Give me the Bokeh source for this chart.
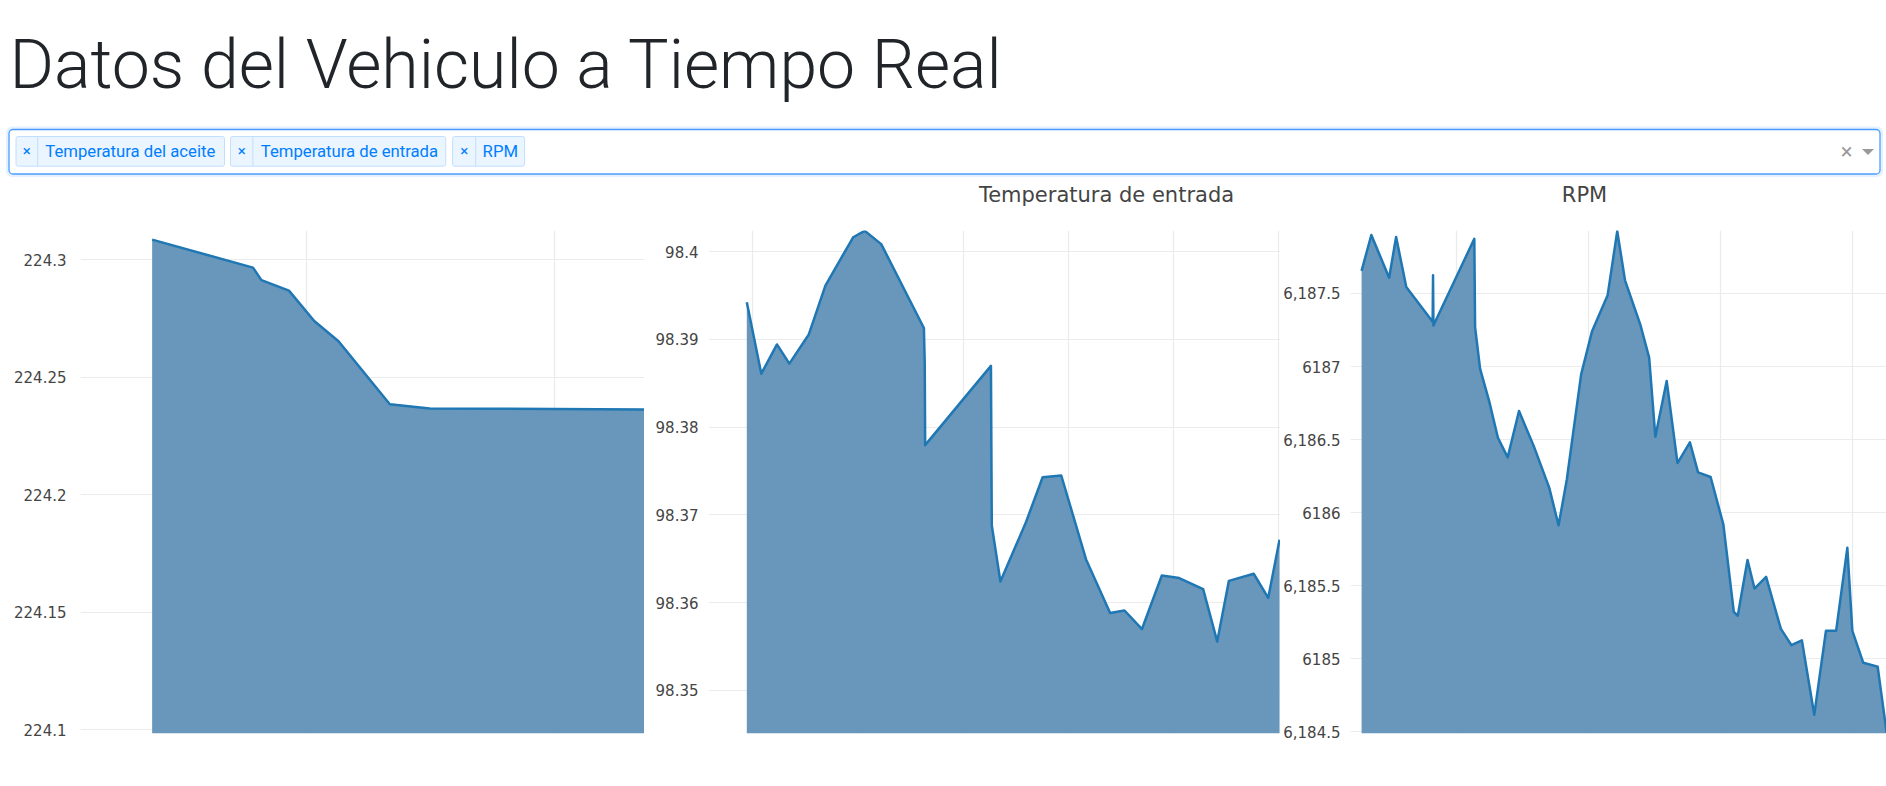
from bokeh.plotting import figure
from bokeh.models import Range1d, FixedTicker, Grid, Label, CustomJSTickFormatter
from bokeh.layouts import column, row
from bokeh.embed import file_html
from bokeh.resources import INLINE

# ---------------- data ----------------
PAGE_TITLE = "Datos del Vehiculo a Tiempo Real"
SELECTED = ["Temperatura del aceite", "Temperatura de entrada", "RPM"]
CHART_TITLES = ["", "Temperatura de entrada", "RPM"]

# Temperatura del aceite (x in grid-interval units)
t_aceite = [-0.623, -0.216, -0.182, -0.071, 0.031, 0.129, 0.336, 0.497, 1.3635]
v_aceite = [224.3086, 224.2967, 224.2914, 224.2869, 224.2740, 224.2654,
            224.2386, 224.2368, 224.2363]
ticks_aceite = [224.1, 224.15, 224.2, 224.25, 224.3]
labels_aceite = ["224.1", "224.15", "224.2", "224.25", "224.3"]

# Temperatura de entrada
t_entrada = [-0.059, 0.079, 0.228, 0.346, 0.531, 0.689, 0.953, 1.063, 1.220,
             1.626, 1.634, 1.638, 2.264, 2.272, 2.354, 2.598, 2.756, 2.933,
             3.169, 3.398, 3.535, 3.701, 3.890, 4.055, 4.283, 4.417, 4.528,
             4.764, 4.902, 5.010]
v_entrada = [98.39422, 98.38609, 98.38942, 98.38723, 98.39056, 98.39613,
             98.40163, 98.40236, 98.40085, 98.39129, 98.38731, 98.37795,
             98.38698, 98.36880, 98.36241, 98.36920, 98.37429, 98.37449,
             98.36493, 98.35883, 98.35911, 98.35700, 98.36310, 98.36281,
             98.36155, 98.35557, 98.36249, 98.36330, 98.36054, 98.36717]
ticks_entrada = [98.35, 98.36, 98.37, 98.38, 98.39, 98.4]
labels_entrada = ["98.35", "98.36", "98.37", "98.38", "98.39", "98.4"]

# RPM
t_rpm = [-0.722, -0.648, -0.513, -0.460, -0.383, -0.183, -0.180, -0.177,
         0.133, 0.139, 0.177, 0.245, 0.312, 0.386, 0.472, 0.584, 0.701,
         0.772, 0.834, 0.943, 1.026, 1.144, 1.217, 1.276, 1.394, 1.459,
         1.506, 1.592, 1.674, 1.768, 1.830, 1.925, 2.022, 2.101, 2.131,
         2.205, 2.258, 2.346, 2.458, 2.538, 2.617, 2.711, 2.800, 2.877,
         2.962, 3.000, 3.083, 3.192, 3.260]
v_rpm = [6187.655, 6187.900, 6187.608, 6187.887, 6187.544, 6187.307,
         6187.624, 6187.281, 6187.874, 6187.268, 6186.984, 6186.765,
         6186.512, 6186.378, 6186.695, 6186.455, 6186.171, 6185.913,
         6186.223, 6186.945, 6187.242, 6187.487, 6187.926, 6187.590,
         6187.281, 6187.061, 6186.520, 6186.901, 6186.339, 6186.481,
         6186.275, 6186.244, 6185.918, 6185.320, 6185.294, 6185.676,
         6185.480, 6185.560, 6185.204, 6185.093, 6185.126, 6184.616,
         6185.191, 6185.191, 6185.759, 6185.191, 6184.972, 6184.946,
         6184.494]
ticks_rpm = [6184.5, 6185, 6185.5, 6186, 6186.5, 6187, 6187.5]
labels_rpm = ["6,184.5", "6185", "6,185.5", "6186", "6,186.5", "6187", "6,187.5"]

# ---------------- style ----------------
FILL = "#6997bb"
LINE = "#1f77b4"
GRID = "#ebebeb"
TICK_FONT = "DejaVu Sans"
CHART_H = 530
HEADER_H = 215

FMT_CODE = """
let best = 0, d = Infinity;
for (let i = 0; i < tvals.length; i++) {
  const e = Math.abs(tvals[i] - tick);
  if (e < d) { d = e; best = i; }
}
return tlabels[best];
"""


def make_chart(t, v, xr, yr, xgrid, yticks, ylabels, width, left_border, standoff):
    p = figure(width=width, height=CHART_H, x_range=Range1d(*xr), y_range=Range1d(*yr),
               x_axis_location=None, y_axis_location="left", toolbar_location=None,
               output_backend="svg", title=None,
               min_border_left=left_border, min_border_right=0,
               min_border_top=15, min_border_bottom=12,
               background_fill_color="white", border_fill_color="white",
               outline_line_color=None)
    p.grid.visible = False
    p.add_layout(Grid(dimension=1, ticker=FixedTicker(ticks=yticks),
                      grid_line_color=GRID, grid_line_width=1.2))
    p.add_layout(Grid(dimension=0, ticker=FixedTicker(ticks=xgrid),
                      grid_line_color=GRID, grid_line_width=1.2))
    p.varea(x=t, y1=[yr[0]] * len(t), y2=v, fill_color=FILL, fill_alpha=1.0)
    p.line(t, v, line_color=LINE, line_width=2.5, line_join="round")
    ax = p.yaxis[0]
    ax.ticker = FixedTicker(ticks=yticks)
    ax.formatter = CustomJSTickFormatter(args=dict(tvals=yticks, tlabels=ylabels), code=FMT_CODE)
    ax.axis_line_color = None
    ax.major_tick_line_color = None
    ax.minor_tick_line_color = None
    ax.major_label_standoff = standoff
    ax.major_label_text_font = TICK_FONT
    ax.major_label_text_font_size = "15px"
    ax.major_label_text_color = "#444444"
    return p


p1 = make_chart(t_aceite, v_aceite, (-0.912, 1.3635), (224.0985, 224.3125),
                [0, 1], ticks_aceite, labels_aceite, 644, 80, 8)
p2 = make_chart(t_entrada, v_entrada, (-0.4234, 5.019), (98.3451, 98.4024),
                [0, 1, 2, 3, 4, 5], ticks_entrada, labels_entrada, 636, 64, 4)
p3 = make_chart(t_rpm, v_rpm, (-0.806, 3.259), (6184.488, 6187.931),
                [0, 1, 2, 3], ticks_rpm, labels_rpm, 606, 64, 4)

# ---------------- header (title + dropdown + chart titles) ----------------
h = figure(width=1886, height=HEADER_H, x_range=Range1d(0, 1886), y_range=Range1d(0, HEADER_H),
           x_axis_location=None, y_axis_location=None, toolbar_location=None,
           output_backend="svg", title=None, min_border=0, outline_line_color=None,
           background_fill_color="white", border_fill_color="white")
h.grid.visible = False


def Y(y):
    return HEADER_H - y


h.add_layout(Label(x=9, y=Y(64), text=PAGE_TITLE, text_font="'Roboto Light', Roboto",
                   text_font_size="68px", text_color="#212529", text_baseline="middle"))

# dropdown box
h.quad(left=[5.5], right=[1882.5], top=[Y(126)], bottom=[Y(176.5)],
       fill_color="#e6f1ff", line_color=None, border_radius=6)
h.quad(left=[8.5], right=[1879.5], top=[Y(129)], bottom=[Y(173.5)],
       fill_color="white", line_color="#4a9dff", line_width=1.3, border_radius=4)

chip_left = [15.5, 230.0, 452.1]
chip_right = [224.0, 445.2, 524.1]
chip_sep = [37.2, 252.4, 475.2]
chip_text_x = [44.8, 260.3, 482.1]
h.quad(left=chip_left, right=chip_right, top=[Y(136)] * 3, bottom=[Y(165.7)] * 3,
       fill_color="#ebf5ff", line_color="#c2dfff", line_width=1, border_radius=2)
h.segment(x0=chip_sep, x1=chip_sep, y0=[Y(136)] * 3, y1=[Y(165.7)] * 3,
          line_color="#c2dfff", line_width=1)
for xl, xs, xt, name in zip(chip_left, chip_sep, chip_text_x, SELECTED):
    h.add_layout(Label(x=(xl + xs) / 2, y=Y(150.5), text="×", text_font="Roboto",
                       text_font_size="15px", text_color="#007eff",
                       text_align="center", text_baseline="middle"))
    h.add_layout(Label(x=xt, y=Y(150.5), text=name, text_font="Roboto",
                       text_font_size="16.7px", text_color="#007eff",
                       text_baseline="middle"))

h.add_layout(Label(x=1846, y=Y(150.5), text="×", text_font="Roboto",
                   text_font_size="22px", text_color="#999999",
                   text_align="center", text_baseline="middle"))
h.patch(x=[1861.5, 1873.5, 1867.5], y=[Y(148.5), Y(148.5), Y(154.5)],
        fill_color="#999999", line_color=None)

# chart titles
title_x = [None, 1106, 1584]
for tx, txt in zip(title_x, CHART_TITLES):
    if txt:
        h.add_layout(Label(x=tx, y=Y(194), text=txt, text_font="DejaVu Sans",
                           text_font_size="21px", text_color="#444444",
                           text_align="center", text_baseline="middle"))

layout = column(h, row(p1, p2, p3, spacing=0), spacing=0)

open("out.html", "w").write(file_html(layout, INLINE))
